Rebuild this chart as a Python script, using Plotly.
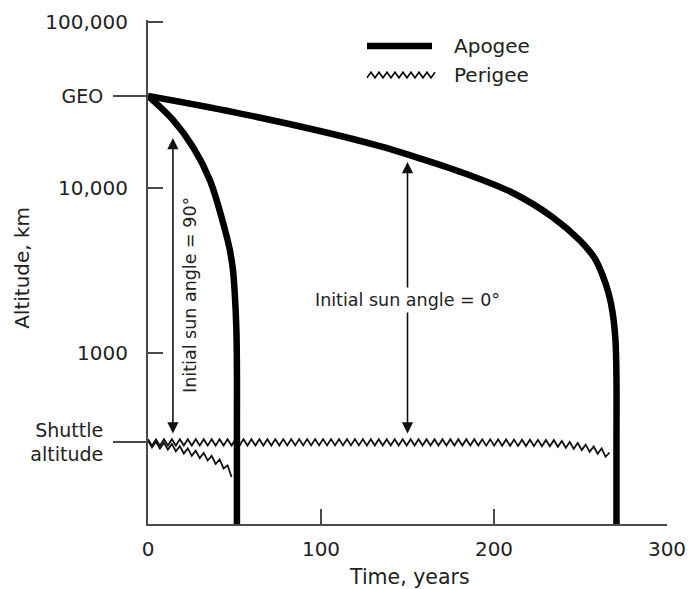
import numpy as np
import plotly.graph_objects as go

# Orbit decay of a GEO disposal orbit: apogee / perigee altitude vs time
GEO_KM = 35786
SHUTTLE_KM = 290

# Initial sun angle = 0 deg
apo0_years = [0, 50, 100, 134, 153, 182, 211, 233.8, 249.4, 258.1, 262.7, 266.2, 268.5,
              270.2, 270.8, 270.8, 270.8]
apo0_km = [GEO_KM, 28500, 21900, 17800, 15500, 12300, 9290, 6650, 4830, 3765, 2972, 2314, 1777,
           1205, 691, 300, 60]
peri0_years = [0, 100, 200, 235, 250, 262, 268]
peri0_km = [290, 291, 290, 287, 274, 256, 238]

# Initial sun angle = 90 deg
apo90_years = [0, 14.4, 26, 35.8, 44.5, 47.3, 49.1, 50.2, 51.1, 51.4, 51.4, 51.4]
apo90_km = [GEO_KM, 25650, 17600, 11100, 5555, 4207, 3187, 2251, 1384, 794, 400, 60]
peri90_years = [0, 14, 24, 34, 42, 47, 49.7]
peri90_km = [285, 272, 254, 237, 218, 198, 177]

# Double-headed arrows spanning apogee-to-perigee ranges
arrow90 = dict(year=14.4, top=19950, bottom=322)
arrow0 = dict(year=150, top=14300, bottom=322)
label90 = dict(year=24.2, km=2250, text="Initial sun angle = 90°")
label0 = dict(year=150, km=2100, text="Initial sun angle = 0°")

x_ticks = [0, 100, 200, 300]
y_ticks = [1000, 10000, 100000]
y_ticktext = ["1000", "10,000", "100,000"]
ref_ticks = [GEO_KM, SHUTTLE_KM]
ref_ticktext = ["GEO", "Shuttle<br>altitude"]

FONT = "DejaVu Sans"
AXIS_COLOR = "#4a4a4a"
Y_RANGE = [1.9704, 5.012]


def wavy(xs, km, step=2.3, amp=0.019):
    """Zig-zag line style used for perigee traces (log-space offsets)."""
    t = np.arange(xs[0], xs[-1] + 1e-9, step)
    yl = np.interp(t, xs, np.log10(km))
    yl = yl + amp * np.where(np.arange(len(t)) % 2 == 0, 1, -1)
    return t, 10 ** yl


fig = go.Figure()

for xs, ys in [(peri0_years, peri0_km), (peri90_years, peri90_km)]:
    wx, wy = wavy(xs, ys)
    fig.add_trace(go.Scatter(x=wx, y=wy, mode="lines",
                             line=dict(color="#111", width=1.8, simplify=False),
                             showlegend=False, hoverinfo="skip"))

for xs, ys in [(apo0_years, apo0_km), (apo90_years, apo90_km)]:
    fig.add_trace(go.Scatter(x=xs, y=ys, mode="lines",
                             line=dict(color="black", width=6.5, shape="spline",
                                       smoothing=1.0, simplify=False),
                             showlegend=False, hoverinfo="skip"))

# Invisible trace so the reference-altitude axis is drawn
fig.add_trace(go.Scatter(x=[0], y=[GEO_KM], yaxis="y2", mode="markers",
                         marker=dict(opacity=0), showlegend=False, hoverinfo="skip"))

annotations = []
for a in (arrow90, arrow0):
    annotations.append(dict(
        x=a["year"], y=np.log10(a["top"]), ax=a["year"], ay=np.log10(a["bottom"]),
        xref="x", yref="y", axref="x", ayref="y", text="", showarrow=True,
        arrowhead=2, startarrowhead=2, arrowside="end+start", arrowsize=1.4,
        startarrowsize=1.4, arrowwidth=1.6, arrowcolor="#111", standoff=0, startstandoff=0))

annotations.append(dict(
    x=label0["year"], y=np.log10(label0["km"]), xref="x", yref="y",
    text=label0["text"], showarrow=False, bgcolor="white", borderpad=2,
    font=dict(family=FONT, size=17.5, color="#222")))
annotations.append(dict(
    x=label90["year"], y=np.log10(label90["km"]), xref="x", yref="y",
    text=label90["text"], showarrow=False, textangle=-90,
    font=dict(family=FONT, size=17.5, color="#222")))

# Axis title for altitude
annotations.append(dict(
    x=-0.243, y=0.508, xref="paper", yref="paper", text="Altitude, km",
    showarrow=False, textangle=-90, xanchor="center", yanchor="middle",
    font=dict(family=FONT, size=20, color="#222")))

# Hand-drawn legend: thick apogee sample and wavy perigee sample
PW, PH, L, B = 519.0, 504.0, 148.0, 524.0


def px_to_paper(px, py):
    return (px - L) / PW, (B - py) / PH


shapes = []
x0, y0 = px_to_paper(367, 46)
x1, _ = px_to_paper(432, 46)
shapes.append(dict(type="line", xref="paper", yref="paper", x0=x0, x1=x1, y0=y0, y1=y0,
                   line=dict(color="black", width=6.5)))
pts = []
for i, px in enumerate(np.arange(367, 438, 4)):
    py = 75 + (2.8 if i % 2 == 0 else -2.8)
    pts.append(px_to_paper(px, py))
path = "M " + " L ".join(f"{p[0]:.5f},{p[1]:.5f}" for p in pts)
shapes.append(dict(type="path", xref="paper", yref="paper", path=path,
                   line=dict(color="#111", width=1.6)))

for label, py in [("Apogee", 46), ("Perigee", 75)]:
    lx, ly = px_to_paper(452, py)
    annotations.append(dict(x=lx, y=ly, xref="paper", yref="paper", text=label,
                            showarrow=False, xanchor="left", yanchor="middle",
                            font=dict(family=FONT, size=20, color="#222")))

# Axis title for time
tx, ty = px_to_paper(409, 577)
annotations.append(dict(x=tx, y=ty, xref="paper", yref="paper", text="Time, years",
                        showarrow=False, xanchor="center", yanchor="middle",
                        font=dict(family=FONT, size=20.5, color="#222")))

fig.update_layout(
    width=691, height=589,
    margin=dict(l=148, r=24, t=20, b=65, autoexpand=False),
    paper_bgcolor="white", plot_bgcolor="white",
    font=dict(family=FONT, size=20, color="#222"),
    showlegend=False,
    xaxis=dict(range=[0, 300], tickvals=x_ticks, ticks="inside", ticklen=15,
               tickwidth=2, tickcolor=AXIS_COLOR, showline=True, linewidth=2,
               linecolor=AXIS_COLOR, showgrid=False, zeroline=False, automargin=False,
               ticklabelstandoff=6, tickfont=dict(size=20)),
    yaxis=dict(type="log", range=Y_RANGE, tickvals=y_ticks, ticktext=y_ticktext,
               ticks="inside", ticklen=15, tickwidth=2, tickcolor=AXIS_COLOR,
               showline=True, linewidth=2, linecolor=AXIS_COLOR, showgrid=False,
               zeroline=False, automargin=False, ticklabelstandoff=14,
               tickfont=dict(size=20)),
    yaxis2=dict(type="log", range=Y_RANGE, overlaying="y", side="left", anchor="x",
                tickvals=ref_ticks, ticktext=ref_ticktext, ticks="outside", ticklen=34,
                tickwidth=2, tickcolor=AXIS_COLOR, showline=False, showgrid=False,
                zeroline=False, automargin=False, ticklabelstandoff=6,
                tickfont=dict(size=19)),
    annotations=annotations,
    shapes=shapes,
)

fig.write_html("out.html")
